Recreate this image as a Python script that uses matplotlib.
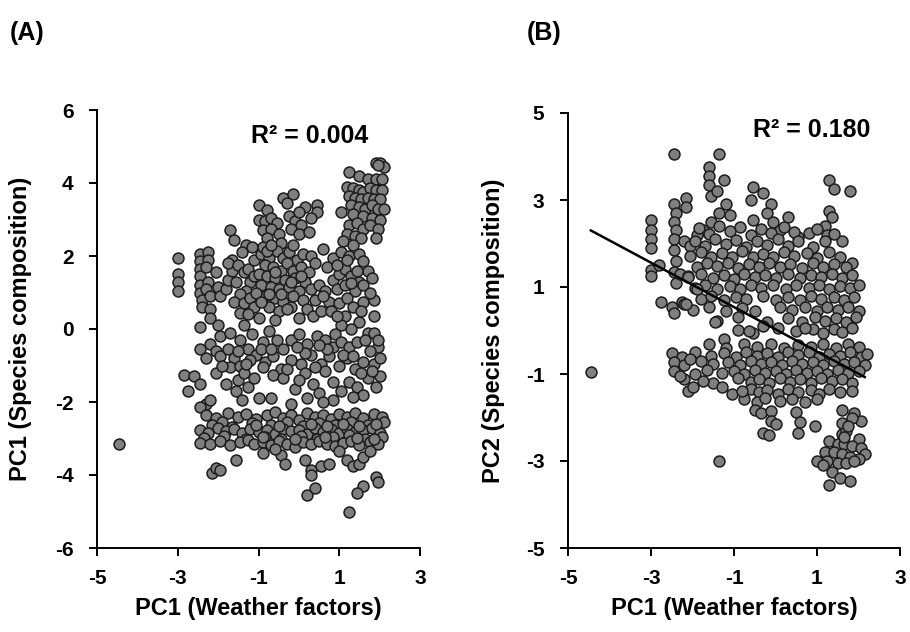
import matplotlib
matplotlib.use("Agg")
import matplotlib.pyplot as plt

# ---------------- Panel A data (PC1 weather vs PC1 species) ----------------
a_outliers = [(-4.45, -3.15), (-3.0, 1.95), (-3.0, 1.5), (-3.0, 1.3), (-3.0, 1.05),
              (-2.85, -1.25), (-2.75, -1.7), (-2.6, -1.3), (-2.3, -2.05), (-2.2, -1.95)]
a_top_right = [(1.9, 4.55), (2.0, 4.55), (2.1, 4.45), (1.95, 4.5), (1.25, 4.3), (1.5, 4.2),
               (1.7, 4.1), (1.9, 4.1), (2.05, 4.1), (1.2, 3.9), (1.35, 3.85), (1.5, 3.8),
               (1.6, 3.75), (1.75, 3.85), (1.9, 3.8), (2.05, 3.8), (1.25, 3.65), (1.4, 3.6),
               (1.55, 3.55), (1.7, 3.6), (1.85, 3.55), (2.0, 3.55), (1.3, 3.4), (1.5, 3.35),
               (1.65, 3.3), (1.8, 3.4), (1.95, 3.3), (2.1, 3.3), (1.05, 3.2), (1.35, 3.15),
               (1.6, 3.1), (1.8, 3.05), (2.0, 3.0), (1.25, 2.85), (1.45, 2.9), (1.6, 2.75),
               (1.75, 2.85), (1.95, 2.75), (1.2, 2.6), (1.4, 2.55), (1.55, 2.5), (1.9, 2.5),
               (1.1, 2.4)]
a_top_mid = [(-1.0, 3.4), (-0.8, 3.25), (-0.4, 3.6), (-0.15, 3.7), (-0.3, 3.45), (0.15, 3.35),
             (0.45, 3.4), (0.45, 3.2), (-1.0, 3.0), (-0.85, 2.95), (-0.7, 3.05), (-0.55, 2.9),
             (-0.25, 3.1), (-0.1, 2.95), (0.05, 2.85), (0.3, 3.05), (0.0, 3.2), (-0.9, 2.7),
             (-0.7, 2.75), (-0.5, 2.6), (-0.2, 2.75), (0.0, 2.6), (0.25, 2.65), (-0.8, 2.5),
             (-0.45, 2.35)]
a_left = [(-1.7, 2.7), (-1.6, 2.45), (-1.3, 2.3), (-1.4, 2.1), (-1.15, 2.25),
          (-2.45, 2.05), (-2.45, 1.85), (-2.45, 1.65), (-2.45, 1.45), (-2.45, 1.2), (-2.45, 1.0),
          (-2.4, 0.8), (-2.4, 0.6), (-2.25, 2.1), (-2.25, 1.9), (-2.3, 1.7), (-2.25, 1.3),
          (-2.3, 1.1), (-2.2, 0.9), (-2.2, 0.55), (-2.05, 1.55), (-2.0, 1.15), (-1.95, 0.9),
          (-1.8, 1.1), (-1.75, 1.35), (-1.65, 1.6), (-1.65, 1.9), (-1.75, 1.8), (-1.5, 1.75),
          (-1.35, 1.55), (-1.55, 1.3), (-1.2, 1.3), (-1.3, 1.05), (-1.45, 0.95), (-1.6, 0.75),
          (-1.35, 0.7), (-1.2, 0.85), (-1.1, 0.6), (-1.45, 0.45), (-1.25, 0.4), (-1.0, 0.3),
          (-1.25, 1.65), (-1.1, 1.45), (-1.1, 1.9)]
a_center = [(-0.95, 2.05), (-0.75, 1.95), (-0.55, 2.15), (-0.4, 1.95), (-0.25, 2.1), (-0.05, 1.9),
            (0.1, 2.05), (0.3, 2.0), (-0.85, 1.75), (-0.65, 1.7), (-0.45, 1.6), (-0.3, 1.8),
            (-0.15, 1.6), (0.05, 1.7), (0.25, 1.55), (-1.0, 1.5), (-0.8, 1.45), (-0.6, 1.4),
            (-0.35, 1.35), (-0.1, 1.4), (0.15, 1.3), (-0.95, 1.2), (-0.7, 1.15), (-0.5, 1.1),
            (-0.25, 1.15), (0.0, 1.05), (0.3, 1.1), (-0.85, 0.9), (-0.6, 0.85), (-0.4, 0.75),
            (-0.15, 0.9), (0.1, 0.8), (-0.75, 0.6), (-0.5, 0.5), (-0.2, 0.6), (0.2, 0.55),
            (-0.9, 2.25), (-0.6, 1.55), (-0.2, 1.3), (0.05, 1.45), (-0.45, 0.95), (-0.75, 0.95),
            (-1.05, 1.0), (-0.3, 0.55), (0.0, 0.3), (0.35, 0.35), (-0.6, 0.25), (-0.8, 2.15),
            (-0.15, 2.3), (0.4, 1.8), (0.4, 0.8), (-0.95, 0.75), (-0.7, 2.3)]
a_right_mid = [(0.6, 2.2), (0.85, 1.95), (1.05, 2.1), (1.25, 2.0), (1.5, 2.05), (1.6, 1.85),
               (1.35, 2.3), (1.7, 1.6), (0.5, 1.2), (0.65, 1.05), (0.85, 1.35), (1.0, 1.5),
               (1.15, 1.65), (1.3, 1.45), (1.5, 1.3), (0.95, 1.1), (1.15, 1.2), (1.4, 1.05),
               (1.6, 1.2), (0.75, 0.75), (1.0, 0.7), (1.2, 0.85), (1.35, 0.6), (0.55, 0.5),
               (0.8, 0.5), (1.6, 0.75), (1.85, 0.8), (1.85, 0.35), (1.15, 0.35), (1.5, 0.2),
               (1.3, 0.0), (1.05, 0.1), (0.9, -0.15), (1.7, -0.1), (0.7, 1.7), (0.95, 1.75),
               (1.2, 1.9), (1.45, 1.6), (1.8, 1.4), (1.75, 1.0), (1.55, 0.5), (0.95, 0.35),
               (0.6, 0.9), (1.3, 1.25)]
a_middle = [(-2.45, 0.05), (-2.45, -0.55), (-2.2, -0.4), (-2.05, -0.6), (-1.95, -0.75),
            (-1.75, -0.55), (-1.6, -0.8), (-1.95, -0.2), (-1.7, -0.1), (-1.45, -0.3),
            (-1.25, -0.55), (-1.05, -0.7), (-0.9, -0.35), (-1.15, -0.15), (-1.35, 0.1),
            (-0.75, -0.05), (-0.55, -0.3), (-0.4, -0.55), (-0.2, -0.3), (0.0, -0.15),
            (0.2, -0.4), (0.45, -0.2), (0.65, -0.3), (0.85, -0.5), (1.05, -0.35), (1.25, -0.5),
            (1.45, -0.35), (1.65, -0.3), (1.85, -0.1), (1.95, -0.5),
            (-1.7, -1.05), (-1.45, -1.0), (-1.2, -0.85), (-0.85, -0.9), (-0.65, -0.75),
            (-0.45, -1.1), (-0.2, -0.85), (0.05, -0.95), (0.3, -0.7), (0.55, -0.95),
            (0.75, -0.75), (1.0, -1.0), (1.2, -0.8), (1.4, -1.1), (1.6, -0.9), (1.85, -0.95),
            (2.0, -0.8), (-2.45, -1.5), (-2.05, -1.2), (-1.5, -1.4), (-1.35, -1.2),
            (-1.25, -1.6), (-1.55, -1.7), (-1.4, -1.95), (-0.9, -1.05), (-0.65, -1.25),
            (-0.4, -1.35), (-0.1, -1.65), (0.15, -1.2), (0.35, -1.5), (0.5, -1.75),
            (0.65, -1.15), (0.85, -1.45), (1.05, -1.7), (1.25, -1.45), (1.45, -1.6),
            (1.7, -1.35), (1.9, -1.6), (2.0, -1.3), (0.2, -1.9), (-0.7, -1.9), (-1.0, -1.9),
            (0.85, -1.95), (-1.5, -0.6), (-1.3, -0.95), (-0.95, -0.55), (-0.3, -1.1),
            (0.15, -0.65), (0.4, -1.05), (0.7, -0.55), (1.1, -0.7), (1.35, -0.75), (1.55, -1.2),
            (1.8, -1.15), (1.95, -0.3), (1.75, -0.6), (-0.05, -0.5), (0.5, -0.45), (-0.7, -0.55),
            (-1.9, -1.0), (-2.3, -0.8), (-2.2, 0.3), (-2.0, 0.1), (1.6, -1.8), (1.35, -1.85),
            (0.6, -2.0), (-0.2, -2.05), (0.0, -1.4), (-1.1, -1.35), (-1.8, -1.5), (-2.45, -2.15)]
a_band = [(-2.3, -2.35), (-2.05, -2.45), (-1.75, -2.3), (-1.5, -2.42), (-1.3, -2.33),
          (-1.05, -2.47), (-0.8, -2.36), (-0.6, -2.28), (-0.4, -2.44), (-0.2, -2.35),
          (0.0, -2.5), (0.2, -2.3), (0.4, -2.42), (0.6, -2.35), (0.8, -2.46), (1.0, -2.32),
          (1.2, -2.4), (1.4, -2.3), (1.6, -2.45), (1.85, -2.33), (2.05, -2.4),
          (-2.15, -2.62), (-1.9, -2.55), (-1.65, -2.68), (-1.15, -2.58), (-0.7, -2.63),
          (-0.3, -2.55), (0.1, -2.66), (0.5, -2.57), (0.9, -2.62), (1.3, -2.55), (1.7, -2.64),
          (2.1, -2.55), (-2.45, -2.78), (-2.25, -2.85), (-2.0, -2.72), (-1.8, -2.8),
          (-1.6, -2.74), (-1.4, -2.86), (-1.2, -2.75), (-1.0, -2.82), (-0.8, -2.77),
          (-0.6, -2.88), (-0.4, -2.73), (-0.2, -2.8), (0.0, -2.76), (0.2, -2.87), (0.4, -2.72),
          (0.6, -2.82), (0.8, -2.75), (1.0, -2.85), (1.2, -2.74), (1.4, -2.83), (1.6, -2.78),
          (1.8, -2.7), (2.0, -2.84), (-2.35, -2.98), (-1.85, -2.92), (-1.3, -3.0),
          (-0.85, -2.95), (-0.45, -3.02), (0.05, -2.93), (0.45, -3.0), (0.85, -2.96),
          (1.25, -2.9), (1.65, -3.0), (2.05, -2.95), (-2.45, -3.12), (-2.2, -3.15),
          (-1.95, -3.08), (-1.7, -3.17), (-1.45, -3.1), (-1.25, -3.05), (-1.1, -3.15),
          (-0.9, -3.1), (-0.7, -3.18), (-0.5, -3.08), (-0.3, -3.14), (-0.1, -3.22), (0.1, -3.1),
          (0.3, -3.16), (0.5, -3.07), (0.7, -3.14), (0.9, -3.2), (1.1, -3.12), (1.3, -3.06),
          (1.5, -3.17), (1.75, -3.1), (1.95, -3.15), (-1.05, -2.62), (-0.5, -2.65), (0.3, -2.6),
          (0.7, -2.65), (1.1, -2.6), (1.5, -2.66), (1.9, -2.6), (-0.9, -2.95), (-0.1, -3.0),
          (0.65, -2.95), (1.45, -2.98), (1.85, -3.0)]
a_bottom = [(-1.55, -3.6), (-2.15, -3.95), (-2.05, -3.8), (-1.95, -3.85), (-0.45, -3.45),
            (-0.35, -3.7), (0.15, -3.6), (0.3, -3.85), (0.3, -4.0), (0.2, -4.55), (0.4, -4.35),
            (0.55, -3.75), (0.75, -3.7), (1.2, -3.6), (1.35, -3.75), (1.5, -3.7), (1.6, -3.5),
            (1.9, -4.05), (1.95, -4.2), (1.6, -4.3), (1.45, -4.5), (1.25, -5.0), (-0.9, -3.4),
            (-0.6, -3.3), (1.0, -3.35), (1.75, -3.35)]

# ---------------- Panel B data (PC1 weather vs PC2 species) ----------------
b_outliers = [(-4.45, -0.95), (-1.35, -3.0), (-2.45, 4.05), (-1.35, 4.05),
              (-3.0, 2.55), (-3.0, 2.3), (-3.0, 2.1), (-3.0, 1.9), (-3.0, 1.4), (-3.0, 1.25),
              (-2.8, 1.5), (-2.75, 0.65), (-2.5, 0.55), (-2.45, 0.4), (-2.25, 0.65),
              (-2.2, 0.6)]
b_upper = [(-2.45, 2.9), (-2.4, 2.7), (-2.45, 2.5), (-2.4, 2.3), (-2.45, 2.1), (-2.45, 1.85),
           (-2.4, 1.6), (-2.45, 1.35), (-2.4, 1.1), (-2.15, 3.05), (-2.15, 2.85), (-2.2, 2.05),
           (-2.05, 1.95), (-2.3, 1.3), (-2.1, 1.25), (-1.6, 3.75), (-1.6, 3.55), (-1.6, 3.35),
           (-1.55, 3.1), (-1.4, 3.2), (-1.25, 3.45), (-1.2, 2.9), (-1.35, 2.7), (-1.1, 2.65),
           (-1.55, 2.5), (-1.75, 2.3), (-1.9, 2.2), (-0.55, 3.3), (-0.6, 3.0), (-0.3, 3.15),
           (-0.1, 2.9), (-0.55, 2.55), (-0.2, 2.7), (0.3, 2.6), (0.1, 2.3), (-0.05, 2.5),
           (1.3, 3.45), (1.4, 3.25), (1.8, 3.2), (1.3, 2.75), (1.35, 2.6), (1.2, 2.4),
           (1.25, 2.2), (1.6, 2.05), (1.85, 1.55), (0.8, 2.25), (0.55, 2.15)]
b_cloud_top = [(-1.85, 2.35), (-1.6, 2.22), (-1.35, 2.4), (-1.1, 2.28), (-0.85, 2.38),
               (-0.6, 2.2), (-0.35, 2.33), (-0.1, 2.25), (0.2, 2.38), (0.45, 2.27), (1.0, 2.33),
               (1.4, 2.22), (-1.95, 2.05), (-1.7, 1.95), (-1.45, 2.1), (-1.2, 1.98),
               (-0.95, 2.07), (-0.7, 1.92), (-0.45, 2.05), (-0.2, 1.96), (0.05, 2.1), (0.3, 1.95),
               (0.55, 2.05), (0.9, 1.92), (1.2, 2.05), (-2.05, 1.72), (-1.8, 1.8), (-1.55, 1.68),
               (-1.3, 1.78), (-1.05, 1.7), (-0.8, 1.82), (-0.55, 1.7), (-0.3, 1.77), (-0.05, 1.68),
               (0.2, 1.8), (0.45, 1.72), (0.75, 1.78), (1.0, 1.66), (1.3, 1.8), (1.55, 1.7),
               (-1.9, 1.45), (-1.65, 1.55), (-1.4, 1.48), (-1.15, 1.56), (-0.9, 1.43),
               (-0.65, 1.52), (-0.4, 1.46), (-0.15, 1.55), (0.1, 1.45), (0.35, 1.53), (0.65, 1.44),
               (0.9, 1.55), (1.15, 1.47), (1.4, 1.52), (1.7, 1.45), (-2.1, 1.22), (-1.8, 1.3),
               (-1.5, 1.2), (-1.25, 1.28), (-1.0, 1.18), (-0.75, 1.3), (-0.5, 1.22), (-0.25, 1.27),
               (0.0, 1.2), (0.3, 1.3), (0.6, 1.2), (0.85, 1.28), (1.1, 1.22), (1.35, 1.3),
               (1.6, 1.2), (1.85, 1.27)]
b_cloud_mid = [(-1.95, 0.98), (-1.7, 1.05), (-1.4, 0.95), (-1.1, 1.03), (-0.85, 0.96),
               (-0.6, 1.05), (-0.35, 0.97), (-0.05, 1.04), (0.25, 0.95), (0.5, 1.05), (0.8, 0.98),
               (1.05, 1.04), (1.3, 0.95), (1.55, 1.03), (1.8, 0.97), (2.0, 1.05), (-1.8, 0.72),
               (-1.55, 0.8), (-1.25, 0.7), (-0.95, 0.78), (-0.7, 0.72), (-0.3, 0.8), (0.0, 0.7),
               (0.3, 0.77), (0.6, 0.7), (0.85, 0.8), (1.1, 0.72), (1.4, 0.78), (1.65, 0.7),
               (1.9, 0.78), (-2.0, 0.48), (-1.6, 0.55), (-1.2, 0.45), (-0.8, 0.52), (-0.5, 0.45),
               (0.1, 0.55), (0.4, 0.47), (0.7, 0.53), (1.0, 0.45), (1.25, 0.55), (1.5, 0.48),
               (1.75, 0.55), (2.0, 0.45), (-1.4, 0.22), (-0.9, 0.3), (-0.2, 0.2), (0.3, 0.28),
               (0.65, 0.2), (0.95, 0.3), (1.2, 0.22), (1.45, 0.28), (1.7, 0.2), (1.95, 0.3),
               (-0.9, 0.02), (-0.55, -0.05), (0.05, 0.05), (0.5, -0.02), (0.9, 0.04),
               (1.15, -0.05), (1.4, 0.03), (1.6, -0.04), (1.85, 0.05), (-1.9, 0.95), (-2.15, 0.6),
               (-1.45, 0.2), (-1.25, -0.2), (-0.65, 0.0), (-0.3, 0.1), (0.7, 0.05)]
b_cloud_low = [(-1.6, -0.3), (-1.2, -0.4), (-0.75, -0.32), (-0.45, -0.38), (-0.1, -0.3),
               (0.2, -0.4), (0.55, -0.33), (0.85, -0.38), (1.15, -0.3), (1.45, -0.4),
               (1.75, -0.32), (2.0, -0.38), (-2.5, -0.52), (-2.25, -0.6), (-1.95, -0.5),
               (-1.55, -0.58), (-1.25, -0.52), (-0.95, -0.6), (-0.7, -0.5), (-0.45, -0.58),
               (-0.2, -0.52), (0.05, -0.6), (0.3, -0.5), (0.55, -0.57), (0.8, -0.5), (1.05, -0.6),
               (1.3, -0.53), (1.55, -0.58), (1.8, -0.5), (2.05, -0.6), (2.2, -0.55),
               (-2.45, -0.72), (-2.2, -0.8), (-1.8, -0.7), (-1.5, -0.78), (-1.15, -0.72),
               (-0.85, -0.8), (-0.6, -0.7), (-0.35, -0.78), (-0.1, -0.72), (0.15, -0.8),
               (0.4, -0.7), (0.65, -0.77), (0.9, -0.72), (1.15, -0.8), (1.4, -0.7), (1.65, -0.78),
               (1.9, -0.72), (2.15, -0.8), (-2.45, -0.92), (-1.95, -1.0), (-1.65, -0.9),
               (-1.3, -0.98), (-1.0, -0.92), (-0.75, -1.0), (-0.5, -0.9), (-0.25, -0.97),
               (0.0, -0.92), (0.25, -1.0), (0.5, -0.9), (0.75, -0.98), (1.0, -0.93), (1.25, -1.0),
               (1.5, -0.9), (1.75, -0.98), (2.0, -0.92), (-2.2, -1.12), (-1.5, -1.2), (-0.9, -1.1),
               (-0.6, -1.18), (-0.4, -1.12), (-0.15, -1.2), (0.1, -1.1), (0.35, -1.18),
               (0.6, -1.12), (0.85, -1.2), (1.1, -1.1), (1.35, -1.17), (1.6, -1.12), (1.85, -1.2),
               (-2.1, -1.38), (-1.05, -1.45), (-0.6, -1.35), (-0.4, -1.42), (-0.2, -1.36),
               (0.05, -1.45), (0.3, -1.35), (0.55, -1.42), (0.85, -1.37), (1.05, -1.45),
               (1.3, -1.35), (1.55, -1.42), (1.85, -1.38), (-0.75, -1.58), (-0.45, -1.65),
               (-0.25, -1.56), (0.1, -1.63), (0.4, -1.57), (0.7, -1.64), (1.0, -1.58),
               (-0.5, -1.82), (-0.35, -1.9), (-0.1, -1.84), (0.5, -1.88), (1.6, -1.82),
               (1.9, -1.9), (-0.1, -2.08), (0.0, -2.15), (0.6, -2.1), (1.6, -2.12), (2.05, -2.08),
               (-0.3, -2.35), (-0.15, -2.4), (0.55, -2.35), (0.95, -2.2), (1.6, -2.38),
               (-2.05, -0.65), (-1.75, -1.15), (-1.3, -1.3), (-0.8, -1.4), (-2.3, -1.05),
               (-2.0, -1.3)]
b_bottom_right = [(1.7, -2.3), (1.85, -2.0), (2.0, -2.5), (1.3, -2.55), (1.5, -2.6), (1.65, -2.6),
                  (1.85, -2.65), (2.05, -2.7), (2.15, -2.85), (1.2, -2.8), (1.4, -2.8),
                  (1.6, -2.85), (1.8, -2.9), (2.0, -2.95), (1.0, -3.0), (1.25, -3.0),
                  (1.5, -3.05), (1.7, -3.05), (1.9, -3.0), (1.35, -3.25), (1.55, -3.4),
                  (1.8, -3.45), (1.3, -3.55), (1.15, -3.1), (1.65, -2.45), (1.75, -2.2)]
b_fit_x = [-4.45, 2.15]
b_fit_y = [2.3, -1.07]

pts_a = (a_outliers + a_top_right + a_top_mid + a_left + a_center + a_right_mid
         + a_middle + a_band + a_bottom)
pts_b = (b_outliers + b_upper + b_cloud_top + b_cloud_mid + b_cloud_low + b_bottom_right)

plt.rcParams["font.family"] = ["Liberation Sans", "DejaVu Sans"]
plt.rcParams["font.weight"] = "bold"
plt.rcParams["axes.unicode_minus"] = False

fig = plt.figure(figsize=(9.10, 6.32), dpi=100)
W, H = 910, 632
axA = fig.add_axes([97 / W, (H - 548) / H, (420 - 97) / W, (548 - 110) / H])
axB = fig.add_axes([568 / W, (H - 548) / H, (900 - 568) / W, (548 - 113) / H])

face = "#7f7f7f"
edge = "#1c1c1c"

def style(ax, ylim, yticks, ylabel, labx):
    ax.set_xlim(-5, 3)
    ax.set_ylim(*ylim)
    ax.set_xticks([-5, -3, -1, 1, 3])
    ax.set_yticks(yticks)
    for s in ("top", "right"):
        ax.spines[s].set_visible(False)
    for s in ("left", "bottom"):
        ax.spines[s].set_linewidth(1.4)
    ax.tick_params(direction="out", length=6, width=1.4, labelsize=15, pad=9)
    ax.tick_params(axis="y", pad=11)
    for lab in ax.get_xticklabels() + ax.get_yticklabels():
        lab.set_fontweight("bold")
    ax.set_xlabel("PC1 (Weather factors)", fontsize=17, fontweight="bold")
    ax.set_ylabel(ylabel, fontsize=17, fontweight="bold")
    ax.xaxis.set_label_coords(0.5, -0.112)
    ax.yaxis.set_label_coords(labx, 0.5)

axA.scatter([p[0] for p in pts_a], [p[1] for p in pts_a], s=62, c=face,
            edgecolors=edge, linewidths=1.1, zorder=3, clip_on=False)
style(axA, (-6, 6), [-6, -4, -2, 0, 2, 4, 6], "PC1 (Species composition)", -0.2)
axA.text(0.27, 5.3, "R² = 0.004", ha="center", va="center", fontsize=18, fontweight="bold")

axB.scatter([p[0] for p in pts_b], [p[1] for p in pts_b], s=62, c=face,
            edgecolors=edge, linewidths=1.1, zorder=3, clip_on=False)
axB.plot(b_fit_x, b_fit_y, color="black", lw=1.8, zorder=4)
style(axB, (-5, 5), [-5, -3, -1, 1, 3, 5], "PC2 (Species composition)", -0.19)
axB.text(0.88, 4.61, "R² = 0.180", ha="center", va="center", fontsize=18, fontweight="bold")

fig.text(10 / W, 1 - 33 / H, "(A)", fontsize=18, fontweight="bold", va="center", ha="left")
fig.text(527 / W, 1 - 33 / H, "(B)", fontsize=18, fontweight="bold", va="center", ha="left")

fig.savefig("out.png", dpi=100)
